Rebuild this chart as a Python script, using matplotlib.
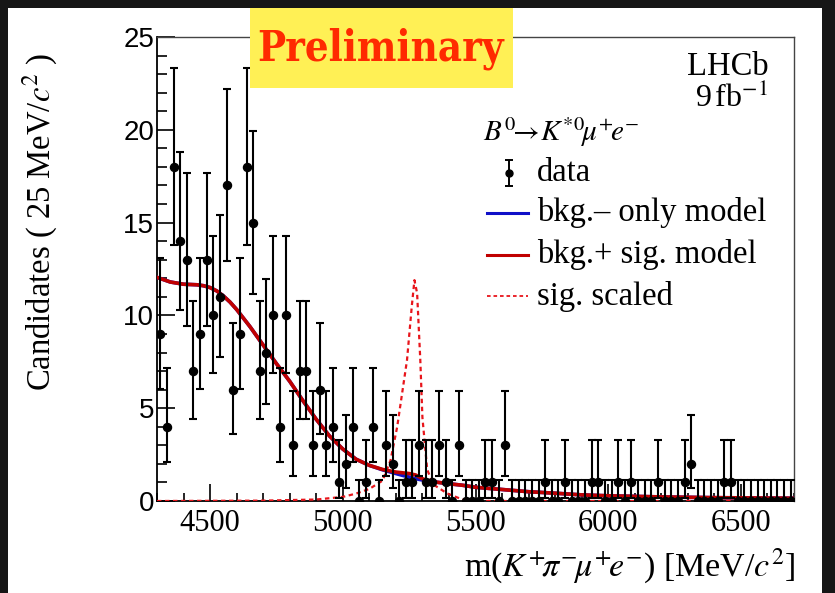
import math
import numpy as np
import matplotlib
matplotlib.use("Agg")
import matplotlib.pyplot as plt
from matplotlib.lines import Line2D
from matplotlib.patches import Rectangle

# ---------------- data ----------------
bin_lo, bin_hi, bin_w = 4300, 6700, 25
counts = [9, 4, 18, 14, 13, 7, 9, 13, 10, 11,
          17, 6, 9, 18, 15, 7, 8, 10, 4, 10,
          3, 7, 7, 3, 6, 3, 4, 1, 2, 4,
          0, 1, 4, 0, 3, 2, 0, 1, 1, 3,
          1, 1, 3, 1, 0, 3, 0, 0, 0, 1,
          1, 0, 3, 0, 0, 0, 0, 0, 1, 0,
          0, 1, 0, 0, 0, 1, 1, 0, 0, 1,
          0, 1, 0, 0, 0, 1, 0, 0, 0, 1,
          2, 0, 0, 0, 0, 1, 1, 0, 0, 0,
          0, 0, 0, 0, 0, 0]

# total model (bkg + sig)
model_x = [4300, 4350, 4400, 4450, 4475, 4500, 4525, 4550, 4575, 4600, 4650, 4700, 4750,
           4800, 4850, 4900, 4950, 5000, 5050, 5100, 5150, 5200, 5225, 5250, 5275,
           5300, 5325, 5350, 5400, 5450, 5500, 5600, 5700, 5800, 5900, 6000, 6200,
           6400, 6700]
sig_bkg_y = [12.05, 11.8, 11.68, 11.65, 11.6, 11.5, 11.32, 11.05, 10.72, 10.32, 9.4, 8.4,
             7.4, 6.45, 5.4, 4.4, 3.5, 2.8, 2.25, 1.92, 1.7, 1.56, 1.52, 1.48, 1.4,
             1.2, 1.08, 1.02, 0.93, 0.85, 0.74, 0.62, 0.5, 0.42, 0.33, 0.28, 0.22,
             0.18, 0.15]
bkg_y = [12.05, 11.8, 11.68, 11.65, 11.6, 11.5, 11.32, 11.05, 10.72, 10.32, 9.4, 8.4,
         7.4, 6.45, 5.4, 4.4, 3.5, 2.8, 2.25, 1.92, 1.68, 1.48, 1.38, 1.29, 1.2,
         1.13, 1.07, 1.02, 0.93, 0.85, 0.74, 0.62, 0.5, 0.42, 0.33, 0.28, 0.22,
         0.18, 0.15]

# scaled signal shape
sig_x = [4300, 4700, 4900, 5000, 5050, 5100, 5150, 5180, 5205, 5242, 5260, 5270,
         5280, 5292, 5300, 5318, 5340, 5393, 5456, 5500, 6700]
sig_y = [0.0, 0.02, 0.08, 0.22, 0.4, 0.65, 1.1, 2.2, 4.0, 7.6, 10.5, 11.9,
         11.2, 7.6, 4.5, 1.7, 0.9, 0.41, 0.05, 0.0, 0.0]

x_ticks = [4500, 5000, 5500, 6000, 6500]
y_ticks = [0, 5, 10, 15, 20, 25]


# ------------- Poisson (Garwood) intervals -------------
def pois_cdf(n, mu):
    s, term = 0.0, math.exp(-mu)
    for k in range(n + 1):
        if k > 0:
            term *= mu / k
        s += term
    return s


def bisect(f, lo, hi):
    for _ in range(80):
        mid = 0.5 * (lo + hi)
        if f(mid) > 0:
            lo = mid
        else:
            hi = mid
    return 0.5 * (lo + hi)


def interval(n):
    a = 0.5 * (1 - 0.682689)
    if n == 0:
        return 0.0, -math.log(2 * a)
    lo = bisect(lambda m: a - (1 - pois_cdf(n - 1, m)), 0.0, n)
    hi = bisect(lambda m: pois_cdf(n, m) - a, n, n + 10 * math.sqrt(n) + 10)
    return lo, hi


counts = np.array(counts, dtype=float)
centers = bin_lo + bin_w * (np.arange(len(counts)) + 0.5)
err_lo, err_hi = [], []
for c in counts.astype(int):
    l, h = interval(c)
    err_lo.append(c - l)
    err_hi.append(h - c)

# ---------------- figure ----------------
W, H = 835, 593
fig = plt.figure(figsize=(W / 100, H / 100), dpi=100)
fig.patch.set_facecolor("#161616")
fig.add_artist(Rectangle((8 / W, 0), (822 - 8) / W, (H - 8) / H,
                         transform=fig.transFigure, facecolor="white",
                         edgecolor="none", zorder=0))

plt.rcParams["mathtext.fontset"] = "stix"
serif = ["Liberation Serif", "DejaVu Serif"]
sans = ["Liberation Sans", "DejaVu Sans"]

ax = fig.add_axes([157 / W, 1 - 501 / H, 637 / W, 464 / H])
ax.set_facecolor("white")
ax.set_xlim(bin_lo, bin_hi)
ax.set_ylim(0, 25)

ax.plot(sig_x, sig_y, color="#e8151b", lw=1.6, ls=(0, (2, 1.6)), zorder=3)
ax.plot(model_x, bkg_y, color="#1010c8", lw=2.6, zorder=4)
ax.plot(model_x, sig_bkg_y, color="#c00000", lw=2.6, zorder=5)
ax.errorbar(centers, counts, yerr=[err_lo, err_hi], fmt="o", color="black",
            ms=5.8, elinewidth=1.5, capsize=2.8, capthick=1.5, zorder=6)

ax.set_xticks(x_ticks)
ax.set_yticks(y_ticks)
ax.set_xticks(np.arange(4300, 6701, 100), minor=True)
ax.set_yticks(np.arange(0, 26, 1), minor=True)
ax.tick_params(which="both", direction="in", top=False, right=False, width=1.2)
ax.tick_params(which="major", axis="y", length=13, pad=2)
ax.tick_params(which="minor", axis="y", length=7)
ax.tick_params(which="major", axis="x", length=12, pad=6)
ax.tick_params(which="minor", axis="x", length=6)
for lab in ax.get_xticklabels():
    lab.set_family(serif)
    lab.set_fontsize(22)
for lab in ax.get_yticklabels():
    lab.set_family(sans)
    lab.set_fontsize(20)
for s in ["left", "bottom"]:
    ax.spines[s].set_linewidth(1.3)
for s in ["top", "right"]:
    ax.spines[s].set_linewidth(1.0)
    ax.spines[s].set_color("#444444")

# axis titles
fig.text(795 / W, 1 - 566 / H, r"m($K^{+}\!\pi^{-}\!\mu^{+}\!e^{-}$) [MeV/$c^{2}$]",
         family=serif, fontsize=24.5, ha="right", va="center")
fig.text(40 / W, 1 - 222 / H, r"Candidates ( 25 MeV/$c^{2}$ )", family=serif,
         fontsize=23.5, rotation=90, ha="center", va="center")

# LHCb label
ax.text(0.96, 0.935, "LHCb", transform=ax.transAxes, ha="right", va="center",
        family=serif, fontsize=23.5)
ax.text(0.96, 0.868, r"9$\,$fb$^{-1}$", transform=ax.transAxes, ha="right",
        va="center", family=serif, fontsize=23)

# legend (manual)
def axc(px, py):
    return (px - 157) / 637, (501 - py) / 464

tx, ty = axc(483, 132)
ax.text(tx, ty, r"$B^{0}\!\!\rightarrow\! K^{*0}\!\mu^{+}\!e^{-}$", transform=ax.transAxes,
        ha="left", va="center", fontsize=21)
rows = [173, 213, 255, 296]
labels = ["data", "bkg.\u2013 only model", "bkg.+ sig. model", "sig. scaled"]
x0, _ = axc(487, 0)
x1, _ = axc(528, 0)
xm, _ = axc(509, 0)
xt, _ = axc(537, 0)
_, y0 = axc(0, rows[0])
ax.errorbar([xm], [y0], yerr=[[0.028], [0.028]], fmt="o", color="black", ms=5,
            elinewidth=1.4, capsize=2.6, capthick=1.4, transform=ax.transAxes, clip_on=False)
_, y1 = axc(0, rows[1])
ax.add_line(Line2D([x0, x1], [y1, y1], color="#1010c8", lw=2.2, transform=ax.transAxes))
_, y2 = axc(0, rows[2])
ax.add_line(Line2D([x0, x1], [y2, y2], color="#c00000", lw=2.2, transform=ax.transAxes))
_, y3 = axc(0, rows[3])
ax.add_line(Line2D([x0, x1], [y3, y3], color="#e8151b", lw=1.3, ls=(0, (2, 1.6)),
                   transform=ax.transAxes))
for r, lab in zip(rows, labels):
    _, yy = axc(0, r)
    ax.text(xt, yy, lab, transform=ax.transAxes, ha="left", va="center",
            family=serif, fontsize=23.5)

# Preliminary banner
fig.add_artist(Rectangle((250 / W, 1 - 88 / H), (513 - 250) / W, (88 - 8) / H,
                         transform=fig.transFigure, facecolor="#fff055",
                         edgecolor="none", zorder=10))
fig.text(381 / W, 1 - 49 / H, "Preliminary", ha="center", va="center",
         family=["DejaVu Serif", "Liberation Serif"], fontstretch="condensed",
         fontweight="bold", fontsize=30, color="#ff2a00", zorder=11)

fig.savefig("out.png", dpi=100, facecolor=fig.get_facecolor())
